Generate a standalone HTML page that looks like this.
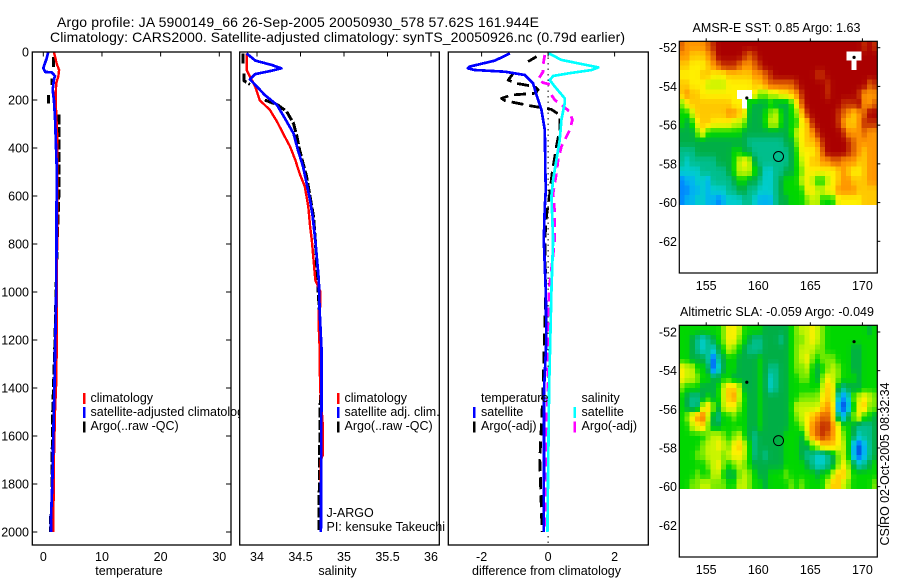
<!DOCTYPE html>
<html>
<head>
<meta charset="utf-8">
<title>Argo profile 5900149_66</title>
<style>
html,body{margin:0;padding:0;background:#fff;}
svg{display:block;}
text{font-family:"Liberation Sans",sans-serif;font-size:12.5px;fill:#000;}
.title{font-size:14px;}
</style>
</head>
<body>
<svg id="fig" xmlns="http://www.w3.org/2000/svg" width="900" height="580" viewBox="0 0 900 580">
  <rect x="0" y="0" width="900" height="580" fill="#fff"/>
  <g id="panels"></g>
  <g id="maps"></g>
  <g id="overlay">
    <text class="title" x="57" y="27" textLength="482" lengthAdjust="spacing">Argo profile: JA 5900149_66 26-Sep-2005 20050930_578 57.62S 161.944E</text>
    <text class="title" x="50" y="42" textLength="575" lengthAdjust="spacing">Climatology: CARS2000. Satellite-adjusted climatology: synTS_20050926.nc (0.79d earlier)</text>
    <text x="129" y="575" text-anchor="middle">temperature</text>
    <text x="337.5" y="575" text-anchor="middle">salinity</text>
    <text x="546.5" y="575" text-anchor="middle" textLength="149" lengthAdjust="spacing">difference from climatology</text>

    <g>
      <rect x="337" y="393" width="2.5" height="11" fill="#f00"/>
      <text x="344.5" y="402">climatology</text>
      <rect x="337" y="407" width="2.5" height="11" fill="#00f"/>
      <text x="344.5" y="416">satellite adj. clim.</text>
      <rect x="337" y="421.5" width="2.5" height="11" fill="#000"/>
      <text x="344.5" y="430">Argo(..raw -QC)</text>
      <text x="326.5" y="517">J-ARGO</text>
      <text x="326.5" y="531" textLength="118.5" lengthAdjust="spacing">PI: kensuke Takeuchi</text>
    </g>

    <g>
      <text x="481" y="402">temperature</text>
      <rect x="473" y="407" width="2.5" height="11" fill="#00f"/>
      <text x="481" y="416">satellite</text>
      <rect x="473" y="421.5" width="2.5" height="11" fill="#000"/>
      <text x="481" y="430">Argo(-adj)</text>
      <text x="581.5" y="402">salinity</text>
      <rect x="573.5" y="407" width="2.5" height="11" fill="#0ff"/>
      <text x="581.5" y="416">satellite</text>
      <rect x="573.5" y="421.5" width="2.5" height="11" fill="#f0f"/>
      <text x="581.5" y="430">Argo(-adj)</text>
    </g>

    <text x="692.5" y="32" textLength="168" lengthAdjust="spacing">AMSR-E SST: 0.85 Argo: 1.63</text>
    <text x="680" y="316" textLength="194" lengthAdjust="spacing">Altimetric SLA: -0.059 Argo: -0.049</text>
    <text transform="translate(889,545.5) rotate(-90)" textLength="163" lengthAdjust="spacing">CSIRO 02-Oct-2005 08:32:34</text>
  </g>
</svg>
<script>
// ---- depth ticks shared by the profile panels ----
const depthTicks = [0,200,400,600,800,1000,1200,1400,1600,1800,2000];
const tempTicks = [0,10,20,30];
const salTicks = [34,34.5,35,35.5,36];
const salTickLabels = ['34','34.5','35','35.5','36'];
const diffTicks = [-2,0,2];
const lonTicks = [155,160,165,170];
const latTicks = [52,54,56,58,60,62];

// ---- temperature profiles ----
const climTempDepth = [0,50,75,103,130,200,339,518,800,1000,1350,1500,1700,2000];
const climTempValue = [1.8,2.3,2.7,2.55,2.2,2.1,2.35,2.4,2.35,2.3,2.25,2.0,1.8,1.7];
const satTempDepth = [0,26,68,83,85,100,115,158,200,270,478,800,1000,1400,1600,1800,1950,2000];
const satTempValue = [0.85,0.58,0,0.3,1.43,2.0,1.8,1.6,1.8,2.0,2.28,2.25,2.2,1.9,1.7,1.53,1.3,1.3];
const argoTempDepth = [20,70,90,110,138,160,180,215,240,260,600,800,1200,1500,1600,1700,1900,1950,2000];
const argoTempValue = [1.7,1.7,null,1.45,1.45,null,0.88,0.88,null,2.65,2.65,2.35,2.0,1.6,1.6,1.45,1.45,1.2,1.2];

// ---- salinity profiles ----
const climSalDepth = [6,75,103,144,200,242,290,353,394,450,506,561,644,728,783,950,1000,1060,1075,1150,1230,1400,1550,1680,1700,2000];
const climSalValue = [33.88,33.88,33.92,33.98,34.03,34.15,34.23,34.32,34.38,34.44,34.49,34.55,34.59,34.61,34.63,34.67,34.73,34.73,34.71,34.71,34.72,34.725,34.755,34.755,34.735,34.735];
const satSalDepth = [6,36,54,68,78,92,114,137,179,221,276,339,408,478,547,617,686,783,950,1075,1230,1400,1500,2000];
const satSalValue = [33.88,33.98,34.17,34.28,34.17,33.98,33.92,33.98,34.09,34.23,34.32,34.42,34.47,34.53,34.57,34.61,34.64,34.67,34.71,34.72,34.74,34.74,34.74,34.735];
const argoSalDepth = [6,50,60,90,120,135,160,172,185,200,221,248,297,353,408,464,519,603,686,783,1100,1400,1500,1850,2000];
const argoSalValue = [33.84,33.84,null,33.85,33.85,33.92,null,34.09,null,34.09,34.24,34.34,34.42,34.46,34.49,34.53,34.57,34.61,34.65,34.67,34.72,34.73,34.725,34.715,34.71];

// ---- differences from climatology ----
const satTempDiffDepth = [6,36,61,68,75,82,96,131,179,242,325,506,575,644,783,1000,1200,1400,2000];
const satTempDiffValue = [-1.15,-1.6,-2.36,-2.41,-2.21,-1.3,-0.7,-0.45,-0.35,-0.2,-0.1,-0.08,-0.07,-0.1,-0.13,-0.07,-0.05,-0.12,-0.13];
const satSalDiffDepth = [6,33,47,64,75,89,100,117,144,193,214,283,367,450,533,603,672,783,1000,1400,2000];
const satSalDiffValue = [0.02,0.4,0.9,1.51,1.31,0.6,0.15,0.05,0.2,0.5,0.5,0.4,0.35,0.25,0.15,0.1,0.12,0.15,0.1,0.03,-0.02];
const argoTempDiffDepth = [19,40,60,89,117,131,144,158,172,179,193,203,225,239,262,325,394,506,589,686,783,1000,1400,1700,2000];
const argoTempDiffValue = [-0.35,-0.6,null,-1.05,-1.2,-0.95,-0.4,-0.3,-0.4,-1.1,-1.4,-1.3,-0.5,0.1,0.35,0.35,0.25,0.12,0.05,-0.05,-0.1,-0.07,-0.15,-0.25,-0.18];
const argoSalDiffDepth = [12,54,82,114,128,137,158,179,200,221,248,283,325,394,450,506,589,672,783,1000,1400,1700,2000];
const argoSalDiffValue = [-0.1,-0.15,-0.15,-0.3,-0.15,0.1,null,0.1,0.2,0.4,0.65,0.73,0.65,0.4,0.3,0.25,0.15,0.2,0.2,0.02,-0.01,-0.08,-0.05];

// ---- map colour levels (r,g,b per level) ----
const levelColors = [[0,60,215],[0,136,255],[0,180,240],[0,205,205],[0,190,140],[0,175,70],[0,215,0],[120,235,0],[200,245,0],[255,240,0],[255,200,0],[255,150,0],[225,100,0],[195,45,0],[170,0,0]];

// ---- SST map: colour level per cell, north to south (null = no data) ----
const sstLevels = [
[11,10,10,10,10,11,12,13,13,13,13,13,13,13,13,13,13,13,13,13,13,13,13,13,13,13,13,13,13,13,13,13,13,13,13,12,13,12],
[10,10,9,9,9,10,11,13,13,13,13,13,12,11,12,13,13,13,13,13,13,13,13,13,13,13,13,13,13,13,13,13,null,null,null,13,13,13],
[9,9,8,8,8,9,10,11,12,12,12,11,10,10,11,12,13,13,13,13,13,13,13,13,13,13,13,13,13,13,13,13,13,null,13,13,13,13],
[8,8,8,8,9,9,8,8,8,9,9,9,9,9,10,10,11,12,13,13,13,13,13,13,13,13,12,12,13,13,13,13,13,13,13,13,13,13],
[9,9,8,8,8,7,7,7,7,8,8,8,8,8,9,9,10,11,11,11,11,11,12,13,13,13,13,13,12,13,13,13,13,13,13,13,11,12],
[9,10,9,9,8,8,8,8,8,8,8,null,null,null,8,6,6,7,7,8,8,9,10,12,13,13,13,13,12,13,13,13,13,13,12,10,10,10],
[6,8,9,9,9,9,9,9,9,9,8,8,null,5,4,4,4,5,4,4,4,5,8,11,13,13,13,13,13,13,13,12,12,12,13,10,10,11],
[5,5,7,9,9,9,9,9,9,10,10,9,8,4,4,4,5,6,7,5,4,5,6,9,12,13,13,13,13,13,12,11,10,9,10,11,13,13],
[5,4,5,8,9,9,8,8,8,8,7,7,6,4,4,4,5,7,7,5,4,5,5,8,9,12,13,13,13,13,12,10,9,9,10,12,12,12],
[4,4,4,6,8,5,5,5,5,5,5,5,4,4,4,4,4,4,4,4,4,5,7,8,9,10,12,13,13,13,13,12,10,10,10,11,10,10],
[4,4,4,4,4,4,4,4,4,4,4,4,4,3,3,3,3,3,3,3,4,4,6,8,9,9,10,12,13,13,13,13,12,11,10,10,10,10],
[3,3,3,4,4,4,4,4,4,4,5,5,4,4,3,3,3,3,3,3,3,4,5,8,8,8,9,11,13,13,13,13,12,11,10,9,10,10],
[3,2,3,3,3,3,3,4,4,4,5,7,8,7,4,3,3,3,3,3,3,4,5,7,8,9,9,10,10,11,11,10,10,10,9,9,10,10],
[2,2,2,2,3,3,3,3,3,4,5,7,7,7,5,4,2,2,3,3,4,4,5,6,8,8,8,8,8,8,9,10,9,8,8,9,10,10],
[0,1,1,2,2,1,3,3,3,3,4,5,5,4,4,3,2,2,3,4,5,5,5,7,8,7,5,5,7,8,9,10,10,9,9,9,10,10],
[0,0,1,1,2,1,2,2,2,3,3,4,4,3,3,2,2,2,3,4,5,5,5,5,8,8,7,7,8,8,10,10,10,10,9,9,9,9],
[0,1,1,2,2,1,1,0,1,2,2,2,3,3,2,1,1,1,3,4,4,5,5,5,6,7,7,5,5,5,8,8,8,8,8,9,9,9]
];

// ---- SLA map: colour level per cell, north to south ----
const slaLevels = [
[6,6,6,6,6,6,6,6,7,9,9,8,6,6,6,6,5,5,5,5,5,6,7,8,8,9,8,7,6,6,6,6,6,6,6,6,5,6],
[6,6,5,4,3,4,5,6,7,9,9,7,6,5,4,4,5,5,5,4,5,6,7,7,8,9,8,7,6,6,6,6,6,6,6,6,6,6],
[6,6,5,4,3,4,3,5,6,8,7,6,5,4,4,4,5,5,5,5,5,6,7,8,8,8,7,7,6,6,6,6,6,5,5,6,6,6],
[6,6,5,5,5,4,0,4,5,6,6,5,5,5,5,6,5,5,5,5,5,6,7,8,9,7,6,7,7,7,6,6,6,5,5,6,6,6],
[9,8,8,6,6,5,0,3,5,6,6,5,5,5,5,6,5,4,4,5,5,6,7,7,8,6,5,6,7,8,7,6,6,5,5,6,6,6],
[9,8,8,7,6,6,5,5,6,6,5,5,5,5,5,6,5,3,4,5,5,6,6,7,7,6,5,7,9,8,7,6,6,6,5,6,6,6],
[7,6,6,6,5,5,5,6,8,10,10,8,5,5,5,6,5,3,4,5,5,6,6,6,6,6,6,8,10,9,5,4,5,5,5,6,6,6],
[6,5,4,4,5,6,5,6,8,10,11,8,6,5,5,6,5,5,5,5,5,6,6,7,7,7,7,9,10,9,3,1,3,7,8,9,8,7],
[6,5,4,4,8,10,7,5,8,9,9,7,6,5,5,6,5,5,5,5,5,6,8,8,8,8,8,10,11,10,1,0,2,6,9,10,7,7],
[6,7,9,11,12,8,5,4,6,6,7,6,6,5,5,6,5,5,5,5,5,6,7,8,9,10,11,12,12,10,4,2,5,7,9,6,6,5],
[6,6,8,9,10,7,5,5,6,6,6,6,6,5,5,6,5,5,5,5,5,6,6,7,9,11,12,13,13,11,9,6,6,5,4,4,4,5],
[6,6,6,6,6,7,8,8,7,6,7,8,6,5,4,5,5,5,5,5,6,6,6,5,8,11,12,13,12,11,9,7,6,5,3,4,4,5],
[6,6,6,6,7,8,8,9,8,7,9,10,8,6,4,5,5,5,5,5,6,6,6,5,5,7,8,10,10,10,9,8,6,2,0,2,4,5],
[6,6,6,7,7,8,8,8,7,8,9,9,8,6,4,5,4,5,5,5,6,6,6,5,4,4,3,3,4,5,7,8,6,2,0,2,4,5],
[6,6,6,6,6,7,8,9,7,6,7,8,7,6,5,5,5,5,5,5,6,6,6,6,5,4,3,3,4,5,7,9,7,5,3,4,5,6],
[6,6,6,7,6,6,8,8,6,5,5,7,8,7,6,5,5,6,6,6,7,6,6,6,6,6,5,6,6,8,10,10,8,6,6,6,6,6],
[6,6,7,7,8,8,7,7,7,6,6,8,8,7,6,6,5,6,6,6,6,7,6,7,6,6,6,6,8,10,10,8,7,6,6,6,6,7]
];

// ---- float positions plotted on the maps ----
const floatLon = 161.944;
const floatLat = 57.62;
const otherFloatLon = [169.2,158.9];
const otherFloatLat = [52.5,54.6];

const NS = 'http://www.w3.org/2000/svg';
function mk(tag, attrs, parent, txt){
  const e = document.createElementNS(NS, tag);
  for (const k in attrs) e.setAttribute(k, attrs[k]);
  if (txt !== undefined) e.textContent = txt;
  parent.appendChild(e);
  return e;
}
function linScale(v0, p0, v1, p1){ return v => p0 + (v - v0) * (p1 - p0) / (v1 - v0); }

const TOP = 52, BOTTOM = 545;
const depthY = linScale(0, 52, 2000, 532);
const panelsG = document.getElementById('panels');
const mapsG = document.getElementById('maps');

function drawSeries(parent, name, depths, values, xs, color, width, dash){
  let pts = [];
  const flush = () => {
    if (pts.length > 1) {
      const line = mk('polyline', {points: pts.join(' '), fill: 'none', stroke: color, 'stroke-width': width, 'stroke-linejoin': 'round', 'shape-rendering': 'crispEdges'}, parent);
      if (dash) line.setAttribute('stroke-dasharray', dash);
      
      
    }
    pts = [];
  };
  depths.forEach((d, i) => {
    if (values[i] === null) { flush(); }
    else { pts.push(xs(values[i]).toFixed(1) + ',' + depthY(d).toFixed(1)); }
  });
  flush();
}

function drawPanel(name, left, right, xs, ticks, labels, showDepth){
  const g = mk('g', {}, panelsG);
  
  
  const bg = mk('rect', {x: left, y: TOP, width: right - left, height: BOTTOM - TOP, fill: '#fff'}, g);
  
  
  return {g, finish(){
    const box = mk('rect', {x: left, y: TOP, width: right - left, height: BOTTOM - TOP, fill: 'none', stroke: '#000', 'stroke-width': 1.3}, g);
    
    
    ticks.forEach((t, i) => {
      const x = xs(t);
      const tk = mk('line', {x1: x, x2: x, y1: TOP, y2: TOP + 4.5, stroke: '#000', 'stroke-width': 1}, g);
      
      
      const lb = mk('text', {x: x, y: 561, 'text-anchor': 'middle'}, g, labels[i]);
      
      
    });
    if (showDepth) {
      depthTicks.forEach(d => {
        const y = depthY(d);
        const l1 = mk('line', {x1: left, x2: left + 5, y1: y, y2: y, stroke: '#000', 'stroke-width': 1}, g);
        
        
        const l2 = mk('line', {x1: right - 5, x2: right, y1: y, y2: y, stroke: '#000', 'stroke-width': 1}, g);
        
        
        const lb = mk('text', {x: 29, y: y + 4.5, 'text-anchor': 'end'}, g, String(d));
        
        
      });
    }
  }};
}

// --- temperature panel ---
const tempX = linScale(0, 43.3, 30, 219.3);
const p1 = drawPanel('temperature-panel', 32.3, 231, tempX, tempTicks, tempTicks.map(String), true);
drawSeries(p1.g, 'argo-temperature-line', argoTempDepth, argoTempValue, tempX, '#000', 3, '10 2.5');
drawSeries(p1.g, 'climatology-temperature-line', climTempDepth, climTempValue, tempX, '#f00', 2.4);
drawSeries(p1.g, 'satellite-temperature-line', satTempDepth, satTempValue, tempX, '#00f', 2.7);
p1.finish();
[['climatology', '#f00', 393, 402, 'climatology'],
 ['satellite', '#00f', 407, 416, 'satellite-adjusted climatology'],
 ['argo', '#000', 421.5, 430, 'Argo(..raw -QC)']].forEach(r => {
  const sw = mk('rect', {x: 83, y: r[2], width: 2.5, height: 11, fill: r[1]}, p1.g);
  
  
  const lb = mk('text', {x: 90.5, y: r[3]}, p1.g, r[4]);
  
  
});

// --- salinity panel ---
const salX = linScale(34, 257, 36, 431);
const p2 = drawPanel('salinity-panel', 239.7, 439.3, salX, salTicks, salTickLabels, false);
drawSeries(p2.g, 'argo-salinity-line', argoSalDepth, argoSalValue, salX, '#000', 3, '10 2.5');
drawSeries(p2.g, 'climatology-salinity-line', climSalDepth, climSalValue, salX, '#f00', 2.4);
drawSeries(p2.g, 'satellite-salinity-line', satSalDepth, satSalValue, salX, '#00f', 2.7);
p2.finish();

// --- difference panel ---
const diffX = linScale(-2, 481.6, 2, 614.6);
const p3 = drawPanel('difference-panel', 448.3, 648.3, diffX, diffTicks, diffTicks.map(String), false);
const zero = mk('line', {x1: diffX(0), x2: diffX(0), y1: TOP, y2: BOTTOM, stroke: '#000', 'stroke-width': 1, 'stroke-dasharray': '1.5 4'}, p3.g);


drawSeries(p3.g, 'argo-temperature-diff-line', argoTempDiffDepth, argoTempDiffValue, diffX, '#000', 2.8, '12 6');
drawSeries(p3.g, 'argo-salinity-diff-line', argoSalDiffDepth, argoSalDiffValue, diffX, '#f0f', 2.8, '9 6');
drawSeries(p3.g, 'satellite-salinity-diff-line', satSalDiffDepth, satSalDiffValue, diffX, '#0ff', 2.7);
drawSeries(p3.g, 'satellite-temperature-diff-line', satTempDiffDepth, satTempDiffValue, diffX, '#00f', 2.7);
p3.finish();

// --- maps ---
function colorFor(level){
  const clamped = Math.max(0, Math.min(levelColors.length - 1, level));
  const i = Math.floor(clamped), f = clamped - i;
  const a = levelColors[i], b = levelColors[Math.min(i + 1, levelColors.length - 1)];
  return 'rgb(' + [0,1,2].map(k => Math.round(a[k] + (b[k] - a[k]) * f)).join(',') + ')';
}
function sampleRow(row, c){
  const mid = row[c];
  if (mid === null) return null;
  const l = (c > 0 && row[c - 1] !== null) ? row[c - 1] : mid;
  const r = (c < row.length - 1 && row[c + 1] !== null) ? row[c + 1] : mid;
  return 0.1 * l + 0.8 * mid + 0.1 * r;
}
function drawMap(name, levels, offset, top, bottom, dataBottom, lat52Y, lat62Y){
  const LEFT = 679.3, RIGHT = 877.3;
  const g = mk('g', {}, mapsG);
  
  
  const lonX = linScale(155, 706.2, 170, 862.4);
  const latY = linScale(52, lat52Y, 62, lat62Y);
  const subH = (dataBottom - top) / levels.length / 2;
  const cellW = (RIGHT - LEFT) / levels[0].length;
  levels.forEach((row, r) => {
    row.forEach((v, c) => {
      if (v === null) return;
      [0, 1].forEach(s => {
        const own = sampleRow(row, c);
        const nbRow = levels[s === 0 ? r - 1 : r + 1];
        const nb = nbRow ? sampleRow(nbRow, c) : null;
        const val = nb === null ? own : 0.8 * own + 0.2 * nb;
        const cell = mk('rect', {x: LEFT + c * cellW, y: top + (2 * r + s) * subH, width: cellW + 0.4, height: subH + 0.4, fill: colorFor(val + offset), 'shape-rendering': 'crispEdges'}, g);
        
        
      });
    });
  });
  otherFloatLon.forEach((lon, i) => {
    const m = mk('circle', {cx: lonX(lon), cy: latY(otherFloatLat[i]), r: 1.6, fill: '#000'}, g);
    
    
  });
  const ring = mk('circle', {cx: lonX(floatLon), cy: latY(floatLat), r: 5, fill: 'none', stroke: '#000', 'stroke-width': 1}, g);
  
  
  const box = mk('rect', {x: LEFT, y: top, width: RIGHT - LEFT, height: bottom - top, fill: 'none', stroke: '#000', 'stroke-width': 1.2}, g);
  
  
  lonTicks.forEach(lon => {
    const x = lonX(lon);
    const t = mk('line', {x1: x, x2: x, y1: top - 3, y2: top, stroke: '#000', 'stroke-width': 1}, g);
    
    
    const l = mk('text', {x: x, y: bottom + 17, 'text-anchor': 'middle'}, g, String(lon));
    
    
  });
  latTicks.forEach(lat => {
    const y = latY(lat);
    const t = mk('line', {x1: RIGHT, x2: RIGHT + 3, y1: y, y2: y, stroke: '#000', 'stroke-width': 1}, g);
    
    
    const l = mk('text', {x: 677, y: y + 4.5, 'text-anchor': 'end'}, g, String(-lat));
    
    
  });
}
drawMap('sst-map', sstLevels, 1, 41.3, 273, 204.7, 47.7, 241.3);
drawMap('sla-map', slaLevels, 0, 325.3, 557, 488.7, 332, 525.3);
</script>
</body>
</html>
